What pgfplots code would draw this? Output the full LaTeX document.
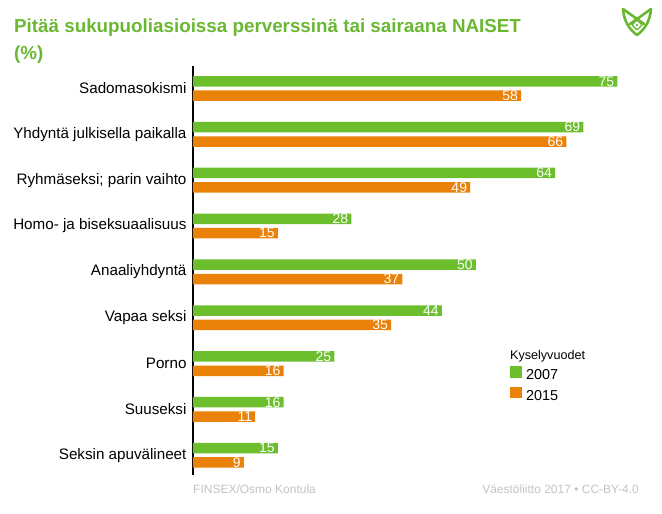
\documentclass[border=0pt]{standalone}
\usepackage{fontspec}
\setmainfont{Liberation Sans}
\usepackage{pgfplots}
\pgfplotsset{compat=1.18}
\definecolor{vgreen}{RGB}{108,190,45}
\definecolor{vorange}{RGB}{234,130,10}
\definecolor{tgreen}{RGB}{106,184,50}
\definecolor{fgrey}{RGB}{195,195,195}
\begin{document}
\begin{tikzpicture}[x=1pt,y=1pt]
\path[use as bounding box] (0,0) rectangle (662,514);
% title
\node[anchor=base west, inner sep=0, text=tgreen, font=\fontsize{18.8}{18.8}\selectfont\bfseries] at (14,481) {Pitää sukupuoliasioissa perverssinä tai sairaana NAISET};
\node[anchor=base west, inner sep=0, text=tgreen, font=\fontsize{18.8}{18.8}\selectfont\bfseries] at (14,454) {(\%)};
% logo
\begin{scope}[tgreen, line width=2.6pt, line join=round, line cap=round]
\draw (623,505) .. controls (624,492) and (630,484) .. (637,479) .. controls (644,484) and (650,492) .. (651,505);
\draw (623,505) -- (644,490);
\draw (651,505) -- (630,490);
\draw[line width=1.4pt] (637,494) -- (642,489) -- (637,484) -- (632,489) -- cycle;
\fill (637,489) circle (1.4);
\end{scope}
% footer
\node[anchor=west, inner sep=0, text=fgrey, font=\fontsize{12}{12}\selectfont] at (193,25) {FINSEX/Osmo Kontula};
\node[anchor=east, inner sep=0, text=fgrey, font=\fontsize{12}{12}\selectfont] at (639,25) {Väestöliitto 2017 • CC-BY-4.0};
\begin{axis}[
  at={(193pt,39pt)}, anchor=south west,
  scale only axis, width=447pt, height=409pt,
  xbar, xmin=0, xmax=79, ymin=-0.43, ymax=8.49,
  axis x line=none,
  axis y line=left,
  y axis line style={black, line width=1.3pt, -},
  ytick={0,...,8},
  yticklabels={Seksin apuvälineet, Suuseksi, Porno, Vapaa seksi, Anaaliyhdyntä, Homo- ja biseksuaalisuus, {Ryhmäseksi; parin vaihto}, Yhdyntä julkisella paikalla, Sadomasokismi},
  yticklabel style={font=\fontsize{15.2}{15.2}\selectfont, xshift=-3pt},
  major tick length=0pt,
  bar width=10.5pt,
  /pgf/number format/assume math mode=true,
  nodes near coords,
  every node near coord/.append style={anchor=east, text=white, font=\fontsize{14}{14}\selectfont, inner sep=3pt},
  legend style={at={(0.709,0.308)}, anchor=north west, draw=none, fill=none,
    inner sep=0pt, row sep=4pt, column sep=4.5pt, cells={anchor=west},
    nodes={inner sep=0pt, text height=10pt, text depth=3pt}},
]
\addlegendimage{empty legend}
\addlegendentry{\hspace*{-16pt}\fontsize{12.6}{12.6}\selectfont Kyselyvuodet}
\addplot[fill=vgreen, draw=none, bar shift=7.2pt, legend image code/.code={\fill[vgreen] (0pt,-1.5pt) rectangle (11.5pt,10pt);}] coordinates {
(15,0) (16,1) (25,2) (44,3) (50,4) (28,5) (64,6) (69,7) (75,8)};
\addlegendentry{\fontsize{14.4}{14.4}\selectfont 2007}
\addplot[fill=vorange, draw=none, bar shift=-7.2pt, legend image code/.code={\fill[vorange] (0pt,-1.5pt) rectangle (11.5pt,10pt);}] coordinates {
(9,0) (11,1) (16,2) (35,3) (37,4) (15,5) (49,6) (66,7) (58,8)};
\addlegendentry{\fontsize{14.4}{14.4}\selectfont 2015}
\end{axis}
\end{tikzpicture}
\end{document}
